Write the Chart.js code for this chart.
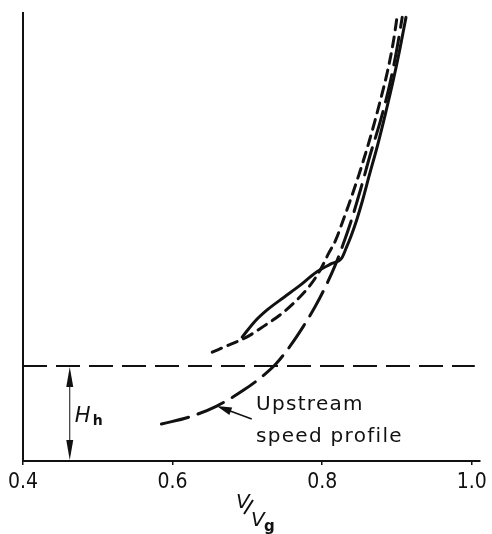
<!DOCTYPE html>
<html>
<head>
<meta charset="utf-8">
<script src="https://cdn.jsdelivr.net/npm/chart.js@4/dist/chart.umd.min.js"></script>
<style>
  html, body { margin: 0; padding: 0; background: #fff; }
  #wrap { width: 492px; height: 534px; position: relative; }
</style>
</head>
<body>
<div id="wrap"><canvas id="profileChart"></canvas></div>
<script>
// axis ranges (height measured in units of hub height H_h)
const xTicks = [0.4, 0.6, 0.8, 1.0];
const xRange = [0.4, 1.011];
const yRange = [0, 4.72];

// hub height line
const hubHeight = 1.0;
const hubLineX = [0.4, 1.004];

// solid profile
const solidX = [0.693, 0.709, 0.726, 0.749, 0.769, 0.792, 0.811, 0.826, 0.832, 0.839, 0.846, 0.854, 0.863, 0.874, 0.884, 0.895, 0.904, 0.912];
const solidY = [1.305, 1.463, 1.589, 1.726, 1.842, 1.989, 2.074, 2.137, 2.242, 2.379, 2.537, 2.747, 3.011, 3.326, 3.642, 4.011, 4.347, 4.674];

// short-dash profile
const dashX = [0.653, 0.675, 0.699, 0.722, 0.745, 0.766, 0.785, 0.798, 0.808, 0.818, 0.828, 0.839, 0.851, 0.864, 0.876, 0.887, 0.895, 0.900];
const dashY = [1.147, 1.221, 1.305, 1.421, 1.547, 1.695, 1.863, 2.021, 2.179, 2.326, 2.537, 2.779, 3.063, 3.400, 3.747, 4.095, 4.411, 4.674];

// upstream speed profile (long dash)
const upstreamX = [0.585, 0.622, 0.659, 0.695, 0.722, 0.738, 0.758, 0.775, 0.791, 0.806, 0.818, 0.828, 0.839, 0.851, 0.864, 0.878, 0.890, 0.899, 0.907];
const upstreamY = [0.389, 0.463, 0.579, 0.747, 0.905, 1.021, 1.221, 1.421, 1.632, 1.863, 2.074, 2.284, 2.537, 2.853, 3.221, 3.589, 3.958, 4.305, 4.674];

const ink = '#111';
const toPoints = (xs, ys) => xs.map((x, i) => ({ x: x, y: ys[i] }));

function arrowHead(ctx, fromX, fromY, tipX, tipY, len, half) {
  const a = Math.atan2(tipY - fromY, tipX - fromX);
  ctx.beginPath();
  ctx.moveTo(tipX, tipY);
  ctx.lineTo(tipX - len * Math.cos(a) + half * Math.sin(a), tipY - len * Math.sin(a) - half * Math.cos(a));
  ctx.lineTo(tipX - len * Math.cos(a) - half * Math.sin(a), tipY - len * Math.sin(a) + half * Math.cos(a));
  ctx.closePath();
  ctx.fill();
}

// labels, H_h dimension arrow and the axis title
const notes = {
  id: 'notes',
  afterDraw(chart) {
    const { ctx, scales: { x, y } } = chart;
    ctx.save();
    ctx.fillStyle = ink;
    ctx.strokeStyle = ink;

    // H_h dimension
    const ax = x.getPixelForValue(0.4625);
    const yTop = y.getPixelForValue(hubHeight);
    const yBot = y.getPixelForValue(0);
    ctx.lineWidth = 1;
    ctx.beginPath();
    ctx.moveTo(ax, yTop + 10);
    ctx.lineTo(ax, yBot - 10);
    ctx.stroke();
    arrowHead(ctx, ax, yTop + 30, ax, yTop + 1, 20, 3.5);
    arrowHead(ctx, ax, yBot - 30, ax, yBot - 1, 20, 3.5);
    ctx.font = 'italic 21px "DejaVu Sans"';
    ctx.textBaseline = 'alphabetic';
    ctx.fillText('H', ax + 5, yTop + 56);
    ctx.font = 'bold 14px "DejaVu Sans"';
    ctx.fillText('h', ax + 23, yTop + 59);

    // upstream label with pointer
    const tipX = x.getPixelForValue(upstreamX[2]);
    const tipY = y.getPixelForValue(upstreamY[2]);
    const tailX = tipX + 35, tailY = tipY + 13;
    ctx.lineWidth = 1.5;
    ctx.beginPath();
    ctx.moveTo(tailX, tailY);
    ctx.lineTo(tipX + 8, tipY + 3);
    ctx.stroke();
    arrowHead(ctx, tailX, tailY, tipX, tipY, 15, 4);
    ctx.font = '20px "DejaVu Sans"';
    ctx.letterSpacing = '1.3px';
    ctx.fillText('Upstream', 256, 410);
    ctx.fillText('speed profile', 256, 442);
    ctx.letterSpacing = '0px';

    // V/Vg title
    ctx.font = 'italic 20px "DejaVu Sans"';
    ctx.fillText('V', 236, 508);
    ctx.lineWidth = 2;
    ctx.beginPath();
    ctx.moveTo(244, 514);
    ctx.lineTo(253, 500);
    ctx.stroke();
    ctx.fillText('V', 251, 526);
    ctx.font = 'bold 15px "DejaVu Sans"';
    ctx.fillText('g', 264, 531);
    ctx.restore();
  }
};

const curve = (xs, ys, dash) => ({
  data: toPoints(xs, ys),
  borderColor: ink,
  borderWidth: 3,
  borderDash: dash,
  borderCapStyle: 'round',
  pointRadius: 0,
  cubicInterpolationMode: 'monotone',
});

new Chart(document.getElementById('profileChart'), {
  type: 'line',
  data: {
    datasets: [
      {
        data: toPoints(hubLineX, hubLineX.map(() => hubHeight)),
        borderColor: ink,
        borderWidth: 2,
        borderDash: [24, 9],
        pointRadius: 0,
        tension: 0,
      },
      curve(solidX, solidY, []),
      curve(dashX, dashY, [10, 7]),
      curve(upstreamX, upstreamY, [28, 10]),
    ],
  },
  options: {
    responsive: true,
    maintainAspectRatio: false,
    animation: false,
    layout: { padding: { left: 23, top: 13, right: 10, bottom: 0 } },
    plugins: {
      legend: { display: false },
      tooltip: { enabled: false },
    },
    scales: {
      x: {
        type: 'linear',
        min: xRange[0],
        max: xRange[1],
        afterBuildTicks: (scale) => { scale.ticks = xTicks.map(v => ({ value: v })); },
        afterFit: (scale) => { scale.height = 73; },
        ticks: {
          autoSkip: false,
          maxRotation: 0,
          padding: 5,
          color: ink,
          font: { family: '"DejaVu Sans Condensed", "DejaVu Sans"', size: 21 },
          callback: (v) => Number(v).toFixed(1),
        },
        grid: { drawOnChartArea: false, tickLength: 4, color: ink, lineWidth: 1.5 },
        border: { color: ink, width: 2 },
      },
      y: {
        type: 'linear',
        min: yRange[0],
        max: yRange[1],
        afterFit: (scale) => { scale.width = 0; },
        ticks: { display: false },
        grid: { display: false },
        border: { color: ink, width: 2 },
      },
    },
  },
  plugins: [notes],
});
</script>
</body>
</html>
